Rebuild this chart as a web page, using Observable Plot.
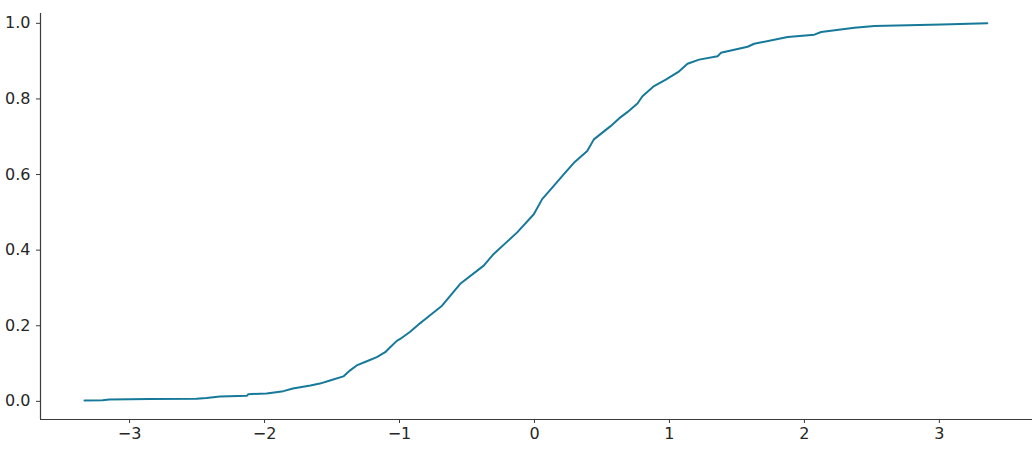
<!DOCTYPE html>
<html>
<head>
<meta charset="utf-8">
<script src="https://cdn.jsdelivr.net/npm/d3@7"></script>
<script src="https://cdn.jsdelivr.net/npm/@observablehq/plot@0.6"></script>
<style>
  html, body { margin: 0; padding: 0; background: #fff; }
  #chart { width: 1035px; height: 450px; }
</style>
</head>
<body>
<div id="chart"></div>
<script>
const xValues = [-3.334, -3.20, -3.15, -2.85, -2.505, -2.43, -2.33, -2.13, -2.12, -1.985, -1.86, -1.79, -1.66, -1.59, -1.515, -1.416, -1.366, -1.317, -1.242, -1.168, -1.106, -1.069, -1.02, -0.995, -0.921, -0.846, -0.822, -0.685, -0.55, -0.376, -0.302, -0.128, -0.005, 0.057, 0.143, 0.218, 0.292, 0.391, 0.44, 0.564, 0.639, 0.688, 0.763, 0.80, 0.886, 0.973, 1.072, 1.134, 1.22, 1.357, 1.381, 1.579, 1.628, 1.876, 2.074, 2.124, 2.371, 2.52, 3.015, 3.355];
const yValues = [0.002, 0.003, 0.005, 0.006, 0.007, 0.009, 0.013, 0.015, 0.019, 0.021, 0.027, 0.034, 0.042, 0.047, 0.055, 0.066, 0.082, 0.095, 0.106, 0.117, 0.130, 0.143, 0.160, 0.165, 0.184, 0.207, 0.214, 0.253, 0.311, 0.359, 0.390, 0.447, 0.495, 0.535, 0.570, 0.601, 0.631, 0.662, 0.693, 0.728, 0.752, 0.765, 0.788, 0.807, 0.834, 0.851, 0.873, 0.893, 0.904, 0.913, 0.922, 0.938, 0.946, 0.964, 0.970, 0.977, 0.988, 0.993, 0.997, 1.0];
const xTicks = [-3, -2, -1, 0, 1, 2, 3];
const yTicks = [0, 0.2, 0.4, 0.6, 0.8, 1.0];

const data = xValues.map((x, i) => ({x, y: yValues[i]}));
const ink = "#262626";
const spine = "#3a3a3a";

const chart = Plot.plot({
  width: 1035,
  height: 450,
  marginLeft: 40,
  marginRight: 3,
  marginTop: 13,
  marginBottom: 31,
  style: {fontFamily: "DejaVu Sans", fontSize: "16px", color: ink, background: "#fff"},
  x: {domain: [-3.66, 3.69]},
  y: {domain: [-0.048, 1.026]},
  marks: [
    Plot.axisX({ticks: xTicks, tickSize: 4, tickPadding: 4, stroke: spine, fill: ink, fontSize: 16, label: null, tickFormat: d3.format("d")}),
    Plot.axisY({ticks: yTicks, tickSize: 4, tickPadding: 6, stroke: spine, fill: ink, fontSize: 16, label: null, tickFormat: d3.format(".1f")}),
    Plot.ruleY([-0.048], {stroke: spine, strokeWidth: 1.2}),
    Plot.ruleX([-3.66], {stroke: spine, strokeWidth: 1.2}),
    Plot.line(data, {x: "x", y: "y", stroke: "#17799a", strokeWidth: 2})
  ]
});
document.getElementById("chart").appendChild(chart);
</script>
</body>
</html>
